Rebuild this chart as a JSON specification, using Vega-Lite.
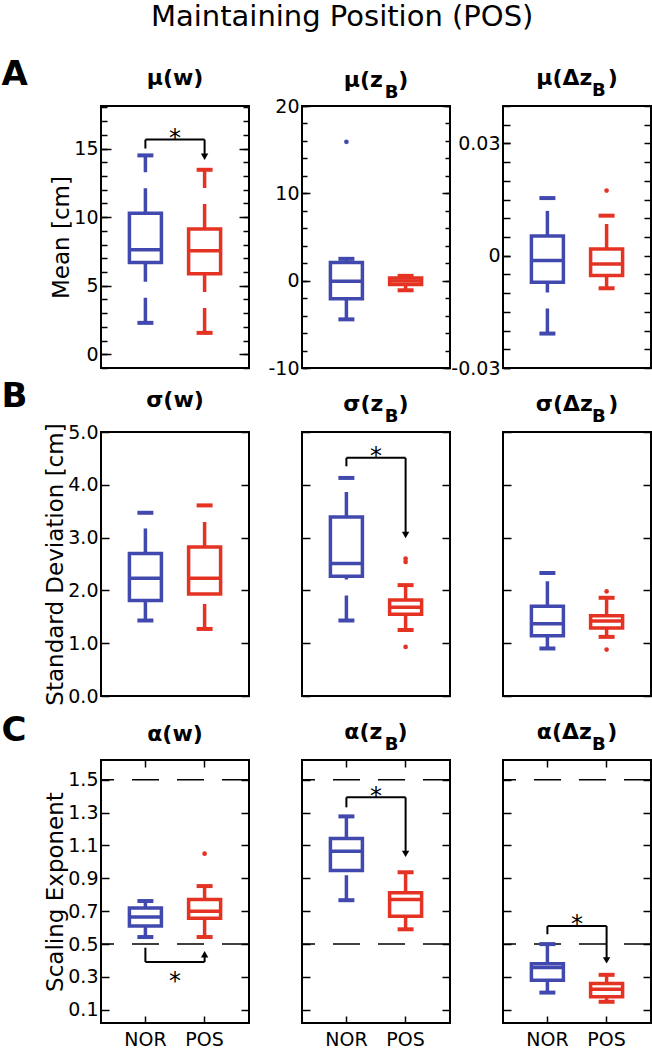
{
"$schema": "https://vega.github.io/schema/vega-lite/v6.json",
"autosize": {"type": "pad"},
"padding": {"left": 0, "top": 3, "right": 0, "bottom": 0},
"background": "white",
"title": {"text": "Maintaining Position (POS)", "fontSize": 29, "fontWeight": "normal", "anchor": "start", "frame": "group", "dx": 50, "offset": 24},
"datasets": {
"boxes": [
{"panel":"A1","g":"NOR","lo":2.29,"q1":6.69,"med":7.62,"q3":10.28,"hi":14.5},
{"panel":"A1","g":"POS","lo":1.56,"q1":5.88,"med":7.55,"q3":9.13,"hi":13.45},
{"panel":"A2","g":"NOR","lo":-4.43,"q1":-2.08,"med":-0.07,"q3":2.08,"hi":2.5},
{"panel":"A2","g":"POS","lo":-1.1,"q1":-0.45,"med":-0.05,"q3":0.3,"hi":0.55},
{"panel":"A3","g":"NOR","lo":-0.0208,"q1":-0.0071,"med":-0.0013,"q3":0.0053,"hi":0.0154},
{"panel":"A3","g":"POS","lo":-0.0087,"q1":-0.0053,"med":-0.0022,"q3":0.0018,"hi":0.0107},
{"panel":"B1","g":"NOR","lo":1.43,"q1":1.81,"med":2.23,"q3":2.70,"hi":3.47},
{"panel":"B1","g":"POS","lo":1.27,"q1":1.93,"med":2.23,"q3":2.82,"hi":3.61},
{"panel":"B2","g":"NOR","lo":1.43,"q1":2.27,"med":2.51,"q3":3.39,"hi":4.13},
{"panel":"B2","g":"POS","lo":1.25,"q1":1.55,"med":1.68,"q3":1.82,"hi":2.10},
{"panel":"B3","g":"NOR","lo":0.90,"q1":1.14,"med":1.37,"q3":1.70,"hi":2.33},
{"panel":"B3","g":"POS","lo":1.12,"q1":1.29,"med":1.42,"q3":1.52,"hi":1.86},
{"panel":"C1","g":"NOR","lo":0.543,"q1":0.61,"med":0.665,"q3":0.72,"hi":0.762},
{"panel":"C1","g":"POS","lo":0.543,"q1":0.657,"med":0.70,"q3":0.772,"hi":0.853},
{"panel":"C2","g":"NOR","lo":0.767,"q1":0.948,"med":1.065,"q3":1.142,"hi":1.277},
{"panel":"C2","g":"POS","lo":0.59,"q1":0.67,"med":0.772,"q3":0.812,"hi":0.937},
{"panel":"C3","g":"NOR","lo":0.205,"q1":0.28,"med":0.357,"q3":0.381,"hi":0.50},
{"panel":"C3","g":"POS","lo":0.149,"q1":0.18,"med":0.226,"q3":0.26,"hi":0.313}
],
"outliers": [
{"panel":"A2","g":"NOR","v":15.9},
{"panel":"A3","g":"POS","v":0.0174},
{"panel":"B2","g":"POS","v":2.60},
{"panel":"B2","g":"POS","v":2.54},
{"panel":"B2","g":"POS","v":0.93},
{"panel":"B3","g":"POS","v":1.98},
{"panel":"B3","g":"POS","v":0.88},
{"panel":"C1","g":"POS","v":1.05}
],
"brackets": [
{"panel":"A1","top":15.65,"nor":15.0,"pos":14.4,"star":16.2,"dir":"down"},
{"panel":"B2","top":4.51,"nor":4.35,"pos":3.05,"star":4.66,"dir":"down"},
{"panel":"C1","top":0.391,"nor":0.478,"pos":0.438,"star":0.31,"dir":"up"},
{"panel":"C2","top":1.393,"nor":1.332,"pos":1.049,"star":1.44,"dir":"down"},
{"panel":"C3","top":0.61,"nor":0.56,"pos":0.401,"star":0.66,"dir":"down"}
],
"refs": [{"r":0.5},{"r":1.5}]
},
"columns": 3,
"spacing": {"row": 64, "column": 53},
"bounds": "flush",
"concat": [
{
"width":148,"height":262,
"title":{"text":"μ(w)","offset":-33},
"layer":[
{"data":{"name":"boxes"},"transform":[{"filter":"datum.panel==='A1'"}],
 "mark":{"type":"bar","width":32,"fill":"white","strokeWidth":3.5,"opacity":1},
 "encoding":{
  "x":{"field":"g","type":"nominal","scale":{"type":"band","domain":["NOR","mid","POS"],"paddingInner":0,"paddingOuter":1.07},"axis":null},
  "y":{"field":"q1","type":"quantitative","scale":{"domain":[-1,18.1],"nice":false,"zero":false},"axis":{"orient":"left","values":[0,5,10,15],"tickSize":-10,"labelPadding":13,"title":"Mean [cm]","titlePadding":0}},
  "y2":{"field":"q3"},
  "stroke":{"field":"g","type":"nominal","scale":{"domain":["NOR","POS"],"range":["#4149ae","#e53323"]},"legend":null}}},
{"data":{"name":"boxes"},"transform":[{"filter":"datum.panel==='A1'"}],
 "mark":{"type":"tick","size":32,"thickness":3.5,"opacity":1},
 "encoding":{"x":{"field":"g","type":"nominal","axis":null},
  "y":{"field":"med","type":"quantitative","axis":{"orient":"right","values":[0,5,10,15],"tickSize":-10,"labels":false,"title":null}},
  "color":{"field":"g","type":"nominal","scale":{"domain":["NOR","POS"],"range":["#4149ae","#e53323"]},"legend":null}}},
{"data":{"name":"boxes"},"transform":[{"filter":"datum.panel==='A1'"}],
 "mark":{"type":"rule","strokeWidth":3.5,"strokeDash":[25,16]},
 "encoding":{"x":{"field":"g","type":"nominal","axis":null},
  "y":{"field":"lo","type":"quantitative","axis":{"orient":"left","values":[-1,0,1,2,3,4,5,6,7,8,9,10,11,12,13,14,15,16,17,18],"tickSize":-6,"labels":false,"title":"A","titleAngle":0,"titleX":-100,"titleY":-22,"titleFontSize":34,"titleFontWeight":"bold","titleAlign":"left","titleBaseline":"alphabetic"}},
  "y2":{"field":"q1"},
  "color":{"field":"g","type":"nominal","legend":null}}},
{"data":{"name":"boxes"},"transform":[{"filter":"datum.panel==='A1'"}],
 "mark":{"type":"rule","strokeWidth":3.5,"strokeDash":[25,16]},
 "encoding":{"x":{"field":"g","type":"nominal","axis":null},
  "y":{"field":"q3","type":"quantitative","axis":{"orient":"right","values":[-1,0,1,2,3,4,5,6,7,8,9,10,11,12,13,14,15,16,17,18],"tickSize":-6,"labels":false,"title":null}},
  "y2":{"field":"hi"},
  "color":{"field":"g","type":"nominal","legend":null}}},
{"data":{"name":"boxes"},"transform":[{"filter":"datum.panel==='A1'"}],
 "mark":{"type":"tick","size":16,"thickness":4,"opacity":1},
 "encoding":{"x":{"field":"g","type":"nominal","axis":null},"y":{"field":"lo","type":"quantitative","axis":null},"color":{"field":"g","type":"nominal","legend":null}}},
{"data":{"name":"boxes"},"transform":[{"filter":"datum.panel==='A1'"}],
 "mark":{"type":"tick","size":16,"thickness":4,"opacity":1},
 "encoding":{"x":{"field":"g","type":"nominal","axis":null},"y":{"field":"hi","type":"quantitative","axis":null},"color":{"field":"g","type":"nominal","legend":null}}},
{"data":{"name":"brackets"},"transform":[{"filter":"datum.panel==='A1'"}],
 "mark":{"type":"rule","strokeWidth":2,"color":"black"},
 "encoding":{"x":{"datum":"NOR","type":"nominal","axis":null},"x2":{"datum":"POS"},"y":{"field":"top","type":"quantitative","axis":null}}},
{"data":{"name":"brackets"},"transform":[{"filter":"datum.panel==='A1'"}],
 "mark":{"type":"rule","strokeWidth":2,"color":"black"},
 "encoding":{"x":{"datum":"NOR","type":"nominal","axis":null},"y":{"field":"top","type":"quantitative","axis":null},"y2":{"field":"nor"}}},
{"data":{"name":"brackets"},"transform":[{"filter":"datum.panel==='A1'"}],
 "mark":{"type":"rule","strokeWidth":2,"color":"black"},
 "encoding":{"x":{"datum":"POS","type":"nominal","axis":null},"y":{"field":"top","type":"quantitative","axis":null},"y2":{"field":"pos"}}},
{"data":{"name":"brackets"},"transform":[{"filter":"datum.panel==='A1'"}],
 "mark":{"type":"point","filled":true,"size":55,"color":"black","opacity":1},
 "encoding":{"x":{"datum":"POS","type":"nominal","axis":null},"y":{"field":"pos","type":"quantitative","axis":null},"shape":{"field":"dir","type":"nominal","scale":{"domain":["down","up"],"range":["triangle-down","triangle-up"]},"legend":null}}},
{"data":{"name":"brackets"},"transform":[{"filter":"datum.panel==='A1'"}],
 "mark":{"type":"text","text":"*","fontSize":24,"baseline":"middle","dy":7,"color":"black"},
 "encoding":{"x":{"datum":"mid","type":"nominal","axis":null},"y":{"field":"star","type":"quantitative","axis":null}}}
],
"resolve":{"axis":{"x":"independent","y":"independent"}}
},
{
"width":148,"height":262,
"title":{"text":"μ(z\u00a0\u00a0)","subtitle":"\u200b\u00a0\u00a0\u00a0\u00a0\u00a0B","offset":-6,"subtitlePadding":-8},
"layer":[
{"data":{"name":"boxes"},"transform":[{"filter":"datum.panel==='A2'"}],
 "mark":{"type":"bar","width":32,"fill":"white","strokeWidth":3.5,"opacity":1},
 "encoding":{
  "x":{"field":"g","type":"nominal","scale":{"type":"band","domain":["NOR","mid","POS"],"paddingInner":0,"paddingOuter":1.07},"axis":null},
  "y":{"field":"q1","type":"quantitative","scale":{"domain":[-10,20],"nice":false,"zero":false},"axis":{"orient":"left","values":[-10,0,10,20],"format":"d","labelExpr":"replace(datum.label, '−', '-')","tickSize":-8,"labelPadding":11,"title":null}},
  "y2":{"field":"q3"},
  "stroke":{"field":"g","type":"nominal","scale":{"domain":["NOR","POS"],"range":["#4149ae","#e53323"]},"legend":null}}},
{"data":{"name":"boxes"},"transform":[{"filter":"datum.panel==='A2'"}],
 "mark":{"type":"tick","size":32,"thickness":3.5,"opacity":1},
 "encoding":{"x":{"field":"g","type":"nominal","axis":null},
  "y":{"field":"med","type":"quantitative","axis":{"orient":"right","values":[-10,0,10,20],"tickSize":-8,"labels":false,"title":null}},
  "color":{"field":"g","type":"nominal","scale":{"domain":["NOR","POS"],"range":["#4149ae","#e53323"]},"legend":null}}},
{"data":{"name":"boxes"},"transform":[{"filter":"datum.panel==='A2'"}],
 "mark":{"type":"rule","strokeWidth":3.5,"strokeDash":[25,16]},
 "encoding":{"x":{"field":"g","type":"nominal","axis":null},
  "y":{"field":"lo","type":"quantitative","axis":{"orient":"left","values":[-10,-8,-6,-4,-2,0,2,4,6,8,10,12,14,16,18,20],"tickSize":-5,"labels":false,"title":null}},
  "y2":{"field":"q1"},
  "color":{"field":"g","type":"nominal","legend":null}}},
{"data":{"name":"boxes"},"transform":[{"filter":"datum.panel==='A2'"}],
 "mark":{"type":"rule","strokeWidth":3.5,"strokeDash":[25,16]},
 "encoding":{"x":{"field":"g","type":"nominal","axis":null},
  "y":{"field":"q3","type":"quantitative","axis":{"orient":"right","values":[-10,-8,-6,-4,-2,0,2,4,6,8,10,12,14,16,18,20],"tickSize":-5,"labels":false,"title":null}},
  "y2":{"field":"hi"},
  "color":{"field":"g","type":"nominal","legend":null}}},
{"data":{"name":"boxes"},"transform":[{"filter":"datum.panel==='A2'"}],
 "mark":{"type":"tick","size":16,"thickness":4,"opacity":1},
 "encoding":{"x":{"field":"g","type":"nominal","axis":null},"y":{"field":"lo","type":"quantitative","axis":null},"color":{"field":"g","type":"nominal","legend":null}}},
{"data":{"name":"boxes"},"transform":[{"filter":"datum.panel==='A2'"}],
 "mark":{"type":"tick","size":16,"thickness":4,"opacity":1},
 "encoding":{"x":{"field":"g","type":"nominal","axis":null},"y":{"field":"hi","type":"quantitative","axis":null},"color":{"field":"g","type":"nominal","legend":null}}},
{"data":{"name":"outliers"},"transform":[{"filter":"datum.panel==='A2'"}],
 "mark":{"type":"point","filled":true,"size":22,"opacity":1},
 "encoding":{"x":{"field":"g","type":"nominal","axis":null},"y":{"field":"v","type":"quantitative","axis":null},"color":{"field":"g","type":"nominal","legend":null}}}
],
"resolve":{"axis":{"x":"independent","y":"independent"}}
},
{
"width":148,"height":262,
"title":{"text":"μ(Δz\u00a0\u00a0)","subtitle":"\u200b\u00a0\u00a0\u00a0\u00a0\u00a0\u00a0\u00a0B","offset":4,"subtitlePadding":-8},
"layer":[
{"data":{"name":"boxes"},"transform":[{"filter":"datum.panel==='A3'"}],
 "mark":{"type":"bar","width":32,"fill":"white","strokeWidth":3.5,"opacity":1},
 "encoding":{
  "x":{"field":"g","type":"nominal","scale":{"type":"band","domain":["NOR","mid","POS"],"paddingInner":0,"paddingOuter":1.07},"axis":null},
  "y":{"field":"q1","type":"quantitative","scale":{"domain":[-0.03,0.04],"nice":false,"zero":false},"axis":{"orient":"left","values":[-0.03,0,0.03],"format":"~g","labelExpr":"replace(datum.label, '−', '-')","tickSize":-7,"labelPadding":10,"title":null}},
  "y2":{"field":"q3"},
  "stroke":{"field":"g","type":"nominal","scale":{"domain":["NOR","POS"],"range":["#4149ae","#e53323"]},"legend":null}}},
{"data":{"name":"boxes"},"transform":[{"filter":"datum.panel==='A3'"}],
 "mark":{"type":"tick","size":32,"thickness":3.5,"opacity":1},
 "encoding":{"x":{"field":"g","type":"nominal","axis":null},
  "y":{"field":"med","type":"quantitative","axis":{"orient":"right","values":[-0.03,-0.025,-0.02,-0.015,-0.01,-0.005,0,0.005,0.01,0.015,0.02,0.025,0.03,0.035,0.04],"tickSize":-7,"labels":false,"title":null}},
  "color":{"field":"g","type":"nominal","scale":{"domain":["NOR","POS"],"range":["#4149ae","#e53323"]},"legend":null}}},
{"data":{"name":"boxes"},"transform":[{"filter":"datum.panel==='A3'"}],
 "mark":{"type":"rule","strokeWidth":3.5,"strokeDash":[25,16]},
 "encoding":{"x":{"field":"g","type":"nominal","axis":null},
  "y":{"field":"lo","type":"quantitative","axis":{"orient":"left","values":[-0.03,-0.025,-0.02,-0.015,-0.01,-0.005,0,0.005,0.01,0.015,0.02,0.025,0.03,0.035,0.04],"tickSize":-7,"labels":false,"title":null}},
  "y2":{"field":"q1"},
  "color":{"field":"g","type":"nominal","legend":null}}},
{"data":{"name":"boxes"},"transform":[{"filter":"datum.panel==='A3'"}],
 "mark":{"type":"rule","strokeWidth":3.5,"strokeDash":[25,16]},
 "encoding":{"x":{"field":"g","type":"nominal","axis":null},
  "y":{"field":"q3","type":"quantitative","axis":null},
  "y2":{"field":"hi"},
  "color":{"field":"g","type":"nominal","legend":null}}},
{"data":{"name":"boxes"},"transform":[{"filter":"datum.panel==='A3'"}],
 "mark":{"type":"tick","size":16,"thickness":4,"opacity":1},
 "encoding":{"x":{"field":"g","type":"nominal","axis":null},"y":{"field":"lo","type":"quantitative","axis":null},"color":{"field":"g","type":"nominal","legend":null}}},
{"data":{"name":"boxes"},"transform":[{"filter":"datum.panel==='A3'"}],
 "mark":{"type":"tick","size":16,"thickness":4,"opacity":1},
 "encoding":{"x":{"field":"g","type":"nominal","axis":null},"y":{"field":"hi","type":"quantitative","axis":null},"color":{"field":"g","type":"nominal","legend":null}}},
{"data":{"name":"outliers"},"transform":[{"filter":"datum.panel==='A3'"}],
 "mark":{"type":"point","filled":true,"size":22,"opacity":1},
 "encoding":{"x":{"field":"g","type":"nominal","axis":null},"y":{"field":"v","type":"quantitative","axis":null},"color":{"field":"g","type":"nominal","legend":null}}}
],
"resolve":{"axis":{"x":"independent","y":"independent"}}
},
{
"width":148,"height":264,
"title":{"text":"σ(w)","offset":-33},
"layer":[
{"data":{"name":"boxes"},"transform":[{"filter":"datum.panel==='B1'"}],
 "mark":{"type":"bar","width":32,"fill":"white","strokeWidth":3.5,"opacity":1},
 "encoding":{
  "x":{"field":"g","type":"nominal","scale":{"type":"band","domain":["NOR","mid","POS"],"paddingInner":0,"paddingOuter":1.07},"axis":null},
  "y":{"field":"q1","type":"quantitative","scale":{"domain":[0,5],"nice":false,"zero":false},"axis":{"orient":"left","values":[0,1,2,3,4,5],"format":".1f","tickSize":-8,"labelPadding":11,"title":"Standard Deviation [cm]","titlePadding":0}},
  "y2":{"field":"q3"},
  "stroke":{"field":"g","type":"nominal","scale":{"domain":["NOR","POS"],"range":["#4149ae","#e53323"]},"legend":null}}},
{"data":{"name":"boxes"},"transform":[{"filter":"datum.panel==='B1'"}],
 "mark":{"type":"tick","size":32,"thickness":3.5,"opacity":1},
 "encoding":{"x":{"field":"g","type":"nominal","axis":null},
  "y":{"field":"med","type":"quantitative","axis":{"orient":"right","values":[0,1,2,3,4,5],"tickSize":-8,"labels":false,"title":"B","titleAngle":0,"titleX":-248,"titleY":-26,"titleFontSize":34,"titleFontWeight":"bold","titleAlign":"left","titleBaseline":"alphabetic"}},
  "color":{"field":"g","type":"nominal","scale":{"domain":["NOR","POS"],"range":["#4149ae","#e53323"]},"legend":null}}},
{"data":{"name":"boxes"},"transform":[{"filter":"datum.panel==='B1'"}],
 "mark":{"type":"rule","strokeWidth":3.5,"strokeDash":[25,16]},
 "encoding":{"x":{"field":"g","type":"nominal","axis":null},"y":{"field":"lo","type":"quantitative","axis":null},"y2":{"field":"q1"},"color":{"field":"g","type":"nominal","legend":null}}},
{"data":{"name":"boxes"},"transform":[{"filter":"datum.panel==='B1'"}],
 "mark":{"type":"rule","strokeWidth":3.5,"strokeDash":[25,16]},
 "encoding":{"x":{"field":"g","type":"nominal","axis":null},"y":{"field":"q3","type":"quantitative","axis":null},"y2":{"field":"hi"},"color":{"field":"g","type":"nominal","legend":null}}},
{"data":{"name":"boxes"},"transform":[{"filter":"datum.panel==='B1'"}],
 "mark":{"type":"tick","size":16,"thickness":4,"opacity":1},
 "encoding":{"x":{"field":"g","type":"nominal","axis":null},"y":{"field":"lo","type":"quantitative","axis":null},"color":{"field":"g","type":"nominal","legend":null}}},
{"data":{"name":"boxes"},"transform":[{"filter":"datum.panel==='B1'"}],
 "mark":{"type":"tick","size":16,"thickness":4,"opacity":1},
 "encoding":{"x":{"field":"g","type":"nominal","axis":null},"y":{"field":"hi","type":"quantitative","axis":null},"color":{"field":"g","type":"nominal","legend":null}}}
],
"resolve":{"axis":{"x":"independent","y":"independent"}}
},
{
"width":148,"height":264,
"title":{"text":"σ(z\u00a0\u00a0)","subtitle":"\u200b\u00a0\u00a0\u00a0\u00a0\u00a0B","offset":4,"subtitlePadding":-8},
"layer":[
{"data":{"name":"boxes"},"transform":[{"filter":"datum.panel==='B2'"}],
 "mark":{"type":"bar","width":32,"fill":"white","strokeWidth":3.5,"opacity":1},
 "encoding":{
  "x":{"field":"g","type":"nominal","scale":{"type":"band","domain":["NOR","mid","POS"],"paddingInner":0,"paddingOuter":1.07},"axis":null},
  "y":{"field":"q1","type":"quantitative","scale":{"domain":[0,5],"nice":false,"zero":false},"axis":{"orient":"left","values":[0,1,2,3,4,5],"tickSize":-8,"labels":false,"title":null}},
  "y2":{"field":"q3"},
  "stroke":{"field":"g","type":"nominal","scale":{"domain":["NOR","POS"],"range":["#4149ae","#e53323"]},"legend":null}}},
{"data":{"name":"boxes"},"transform":[{"filter":"datum.panel==='B2'"}],
 "mark":{"type":"tick","size":32,"thickness":3.5,"opacity":1},
 "encoding":{"x":{"field":"g","type":"nominal","axis":null},
  "y":{"field":"med","type":"quantitative","axis":{"orient":"right","values":[0,1,2,3,4,5],"tickSize":-8,"labels":false,"title":null}},
  "color":{"field":"g","type":"nominal","scale":{"domain":["NOR","POS"],"range":["#4149ae","#e53323"]},"legend":null}}},
{"data":{"name":"boxes"},"transform":[{"filter":"datum.panel==='B2'"}],
 "mark":{"type":"rule","strokeWidth":3.5,"strokeDash":[25,16]},
 "encoding":{"x":{"field":"g","type":"nominal","axis":null},"y":{"field":"lo","type":"quantitative","axis":null},"y2":{"field":"q1"},"color":{"field":"g","type":"nominal","legend":null}}},
{"data":{"name":"boxes"},"transform":[{"filter":"datum.panel==='B2'"}],
 "mark":{"type":"rule","strokeWidth":3.5,"strokeDash":[25,16]},
 "encoding":{"x":{"field":"g","type":"nominal","axis":null},"y":{"field":"q3","type":"quantitative","axis":null},"y2":{"field":"hi"},"color":{"field":"g","type":"nominal","legend":null}}},
{"data":{"name":"boxes"},"transform":[{"filter":"datum.panel==='B2'"}],
 "mark":{"type":"tick","size":16,"thickness":4,"opacity":1},
 "encoding":{"x":{"field":"g","type":"nominal","axis":null},"y":{"field":"lo","type":"quantitative","axis":null},"color":{"field":"g","type":"nominal","legend":null}}},
{"data":{"name":"boxes"},"transform":[{"filter":"datum.panel==='B2'"}],
 "mark":{"type":"tick","size":16,"thickness":4,"opacity":1},
 "encoding":{"x":{"field":"g","type":"nominal","axis":null},"y":{"field":"hi","type":"quantitative","axis":null},"color":{"field":"g","type":"nominal","legend":null}}},
{"data":{"name":"outliers"},"transform":[{"filter":"datum.panel==='B2'"}],
 "mark":{"type":"point","filled":true,"size":22,"opacity":1},
 "encoding":{"x":{"field":"g","type":"nominal","axis":null},"y":{"field":"v","type":"quantitative","axis":null},"color":{"field":"g","type":"nominal","legend":null}}},
{"data":{"name":"brackets"},"transform":[{"filter":"datum.panel==='B2'"}],
 "mark":{"type":"rule","strokeWidth":2,"color":"black"},
 "encoding":{"x":{"datum":"NOR","type":"nominal","axis":null},"x2":{"datum":"POS"},"y":{"field":"top","type":"quantitative","axis":null}}},
{"data":{"name":"brackets"},"transform":[{"filter":"datum.panel==='B2'"}],
 "mark":{"type":"rule","strokeWidth":2,"color":"black"},
 "encoding":{"x":{"datum":"NOR","type":"nominal","axis":null},"y":{"field":"top","type":"quantitative","axis":null},"y2":{"field":"nor"}}},
{"data":{"name":"brackets"},"transform":[{"filter":"datum.panel==='B2'"}],
 "mark":{"type":"rule","strokeWidth":2,"color":"black"},
 "encoding":{"x":{"datum":"POS","type":"nominal","axis":null},"y":{"field":"top","type":"quantitative","axis":null},"y2":{"field":"pos"}}},
{"data":{"name":"brackets"},"transform":[{"filter":"datum.panel==='B2'"}],
 "mark":{"type":"point","filled":true,"size":55,"color":"black","opacity":1},
 "encoding":{"x":{"datum":"POS","type":"nominal","axis":null},"y":{"field":"pos","type":"quantitative","axis":null},"shape":{"field":"dir","type":"nominal","scale":{"domain":["down","up"],"range":["triangle-down","triangle-up"]},"legend":null}}},
{"data":{"name":"brackets"},"transform":[{"filter":"datum.panel==='B2'"}],
 "mark":{"type":"text","text":"*","fontSize":24,"baseline":"middle","dy":7,"color":"black"},
 "encoding":{"x":{"datum":"mid","type":"nominal","axis":null},"y":{"field":"star","type":"quantitative","axis":null}}}
],
"resolve":{"axis":{"x":"independent","y":"independent"}}
},
{
"width":148,"height":264,
"title":{"text":"σ(Δz\u00a0\u00a0)","subtitle":"\u200b\u00a0\u00a0\u00a0\u00a0\u00a0\u00a0\u00a0B","offset":4,"subtitlePadding":-8},
"layer":[
{"data":{"name":"boxes"},"transform":[{"filter":"datum.panel==='B3'"}],
 "mark":{"type":"bar","width":32,"fill":"white","strokeWidth":3.5,"opacity":1},
 "encoding":{
  "x":{"field":"g","type":"nominal","scale":{"type":"band","domain":["NOR","mid","POS"],"paddingInner":0,"paddingOuter":1.07},"axis":null},
  "y":{"field":"q1","type":"quantitative","scale":{"domain":[0,5],"nice":false,"zero":false},"axis":{"orient":"left","values":[0,1,2,3,4,5],"tickSize":-8,"labels":false,"title":null}},
  "y2":{"field":"q3"},
  "stroke":{"field":"g","type":"nominal","scale":{"domain":["NOR","POS"],"range":["#4149ae","#e53323"]},"legend":null}}},
{"data":{"name":"boxes"},"transform":[{"filter":"datum.panel==='B3'"}],
 "mark":{"type":"tick","size":32,"thickness":3.5,"opacity":1},
 "encoding":{"x":{"field":"g","type":"nominal","axis":null},
  "y":{"field":"med","type":"quantitative","axis":{"orient":"right","values":[0,1,2,3,4,5],"tickSize":-8,"labels":false,"title":null}},
  "color":{"field":"g","type":"nominal","scale":{"domain":["NOR","POS"],"range":["#4149ae","#e53323"]},"legend":null}}},
{"data":{"name":"boxes"},"transform":[{"filter":"datum.panel==='B3'"}],
 "mark":{"type":"rule","strokeWidth":3.5,"strokeDash":[25,16]},
 "encoding":{"x":{"field":"g","type":"nominal","axis":null},"y":{"field":"lo","type":"quantitative","axis":null},"y2":{"field":"q1"},"color":{"field":"g","type":"nominal","legend":null}}},
{"data":{"name":"boxes"},"transform":[{"filter":"datum.panel==='B3'"}],
 "mark":{"type":"rule","strokeWidth":3.5,"strokeDash":[25,16]},
 "encoding":{"x":{"field":"g","type":"nominal","axis":null},"y":{"field":"q3","type":"quantitative","axis":null},"y2":{"field":"hi"},"color":{"field":"g","type":"nominal","legend":null}}},
{"data":{"name":"boxes"},"transform":[{"filter":"datum.panel==='B3'"}],
 "mark":{"type":"tick","size":16,"thickness":4,"opacity":1},
 "encoding":{"x":{"field":"g","type":"nominal","axis":null},"y":{"field":"lo","type":"quantitative","axis":null},"color":{"field":"g","type":"nominal","legend":null}}},
{"data":{"name":"boxes"},"transform":[{"filter":"datum.panel==='B3'"}],
 "mark":{"type":"tick","size":16,"thickness":4,"opacity":1},
 "encoding":{"x":{"field":"g","type":"nominal","axis":null},"y":{"field":"hi","type":"quantitative","axis":null},"color":{"field":"g","type":"nominal","legend":null}}},
{"data":{"name":"outliers"},"transform":[{"filter":"datum.panel==='B3'"}],
 "mark":{"type":"point","filled":true,"size":22,"opacity":1},
 "encoding":{"x":{"field":"g","type":"nominal","axis":null},"y":{"field":"v","type":"quantitative","axis":null},"color":{"field":"g","type":"nominal","legend":null}}}
],
"resolve":{"axis":{"x":"independent","y":"independent"}}
},
{
"width":148,"height":263,
"title":{"text":"α(w)","offset":-33},
"layer":[
{"data":{"name":"refs"},
 "mark":{"type":"rule","strokeDash":[27,18],"strokeWidth":1.5,"color":"black"},
 "encoding":{"y":{"field":"r","type":"quantitative","scale":{"domain":[0.02,1.62],"nice":false,"zero":false},"axis":null}}},
{"data":{"name":"boxes"},"transform":[{"filter":"datum.panel==='C1'"}],
 "mark":{"type":"bar","width":32,"fill":"white","strokeWidth":3.5,"opacity":1},
 "encoding":{
  "x":{"field":"g","type":"nominal","scale":{"type":"band","domain":["NOR","mid","POS"],"paddingInner":0,"paddingOuter":1.07},"axis":{"orient":"bottom","values":["NOR","POS"],"tickSize":-7,"labelPadding":14,"labelAngle":0,"title":null}},
  "y":{"field":"q1","type":"quantitative","axis":{"orient":"left","values":[0.1,0.3,0.5,0.7,0.9,1.1,1.3,1.5],"format":".1f","tickSize":-8,"labelPadding":11,"title":"Scaling Exponent","titlePadding":0}},
  "y2":{"field":"q3"},
  "stroke":{"field":"g","type":"nominal","scale":{"domain":["NOR","POS"],"range":["#4149ae","#e53323"]},"legend":null}}},
{"data":{"name":"boxes"},"transform":[{"filter":"datum.panel==='C1'"}],
 "mark":{"type":"tick","size":32,"thickness":3.5,"opacity":1},
 "encoding":{"x":{"field":"g","type":"nominal","axis":{"orient":"top","values":["NOR","POS"],"tickSize":-7,"labels":false,"title":null}},
  "y":{"field":"med","type":"quantitative","axis":{"orient":"right","values":[0.1,0.3,0.5,0.7,0.9,1.1,1.3,1.5],"tickSize":-8,"labels":false,"title":"C","titleAngle":0,"titleX":-248,"titleY":-20,"titleFontSize":34,"titleFontWeight":"bold","titleAlign":"left","titleBaseline":"alphabetic"}},
  "color":{"field":"g","type":"nominal","scale":{"domain":["NOR","POS"],"range":["#4149ae","#e53323"]},"legend":null}}},
{"data":{"name":"boxes"},"transform":[{"filter":"datum.panel==='C1'"}],
 "mark":{"type":"rule","strokeWidth":3.5,"strokeDash":[25,16]},
 "encoding":{"x":{"field":"g","type":"nominal","axis":null},"y":{"field":"lo","type":"quantitative","axis":null},"y2":{"field":"q1"},"color":{"field":"g","type":"nominal","legend":null}}},
{"data":{"name":"boxes"},"transform":[{"filter":"datum.panel==='C1'"}],
 "mark":{"type":"rule","strokeWidth":3.5,"strokeDash":[25,16]},
 "encoding":{"x":{"field":"g","type":"nominal","axis":null},"y":{"field":"q3","type":"quantitative","axis":null},"y2":{"field":"hi"},"color":{"field":"g","type":"nominal","legend":null}}},
{"data":{"name":"boxes"},"transform":[{"filter":"datum.panel==='C1'"}],
 "mark":{"type":"tick","size":16,"thickness":4,"opacity":1},
 "encoding":{"x":{"field":"g","type":"nominal","axis":null},"y":{"field":"lo","type":"quantitative","axis":null},"color":{"field":"g","type":"nominal","legend":null}}},
{"data":{"name":"boxes"},"transform":[{"filter":"datum.panel==='C1'"}],
 "mark":{"type":"tick","size":16,"thickness":4,"opacity":1},
 "encoding":{"x":{"field":"g","type":"nominal","axis":null},"y":{"field":"hi","type":"quantitative","axis":null},"color":{"field":"g","type":"nominal","legend":null}}},
{"data":{"name":"outliers"},"transform":[{"filter":"datum.panel==='C1'"}],
 "mark":{"type":"point","filled":true,"size":22,"opacity":1},
 "encoding":{"x":{"field":"g","type":"nominal","axis":null},"y":{"field":"v","type":"quantitative","axis":null},"color":{"field":"g","type":"nominal","legend":null}}},
{"data":{"name":"brackets"},"transform":[{"filter":"datum.panel==='C1'"}],
 "mark":{"type":"rule","strokeWidth":2,"color":"black"},
 "encoding":{"x":{"datum":"NOR","type":"nominal","axis":null},"x2":{"datum":"POS"},"y":{"field":"top","type":"quantitative","axis":null}}},
{"data":{"name":"brackets"},"transform":[{"filter":"datum.panel==='C1'"}],
 "mark":{"type":"rule","strokeWidth":2,"color":"black"},
 "encoding":{"x":{"datum":"NOR","type":"nominal","axis":null},"y":{"field":"top","type":"quantitative","axis":null},"y2":{"field":"nor"}}},
{"data":{"name":"brackets"},"transform":[{"filter":"datum.panel==='C1'"}],
 "mark":{"type":"rule","strokeWidth":2,"color":"black"},
 "encoding":{"x":{"datum":"POS","type":"nominal","axis":null},"y":{"field":"top","type":"quantitative","axis":null},"y2":{"field":"pos"}}},
{"data":{"name":"brackets"},"transform":[{"filter":"datum.panel==='C1'"}],
 "mark":{"type":"point","filled":true,"size":55,"color":"black","opacity":1},
 "encoding":{"x":{"datum":"POS","type":"nominal","axis":null},"y":{"field":"pos","type":"quantitative","axis":null},"shape":{"field":"dir","type":"nominal","scale":{"domain":["down","up"],"range":["triangle-down","triangle-up"]},"legend":null}}},
{"data":{"name":"brackets"},"transform":[{"filter":"datum.panel==='C1'"}],
 "mark":{"type":"text","text":"*","fontSize":24,"baseline":"middle","dy":7,"color":"black"},
 "encoding":{"x":{"datum":"mid","type":"nominal","axis":null},"y":{"field":"star","type":"quantitative","axis":null}}}
],
"resolve":{"axis":{"x":"independent","y":"independent"}}
},
{
"width":148,"height":263,
"title":{"text":"α(z\u00a0\u00a0)","subtitle":"\u200b\u00a0\u00a0\u00a0\u00a0\u00a0B","offset":4,"subtitlePadding":-8},
"layer":[
{"data":{"name":"refs"},
 "mark":{"type":"rule","strokeDash":[27,18],"strokeWidth":1.5,"color":"black"},
 "encoding":{"y":{"field":"r","type":"quantitative","scale":{"domain":[0.02,1.62],"nice":false,"zero":false},"axis":null}}},
{"data":{"name":"boxes"},"transform":[{"filter":"datum.panel==='C2'"}],
 "mark":{"type":"bar","width":32,"fill":"white","strokeWidth":3.5,"opacity":1},
 "encoding":{
  "x":{"field":"g","type":"nominal","scale":{"type":"band","domain":["NOR","mid","POS"],"paddingInner":0,"paddingOuter":1.07},"axis":{"orient":"bottom","values":["NOR","POS"],"tickSize":-7,"labelPadding":14,"labelAngle":0,"title":null}},
  "y":{"field":"q1","type":"quantitative","axis":{"orient":"left","values":[0.1,0.3,0.5,0.7,0.9,1.1,1.3,1.5],"tickSize":-8,"labels":false,"title":null}},
  "y2":{"field":"q3"},
  "stroke":{"field":"g","type":"nominal","scale":{"domain":["NOR","POS"],"range":["#4149ae","#e53323"]},"legend":null}}},
{"data":{"name":"boxes"},"transform":[{"filter":"datum.panel==='C2'"}],
 "mark":{"type":"tick","size":32,"thickness":3.5,"opacity":1},
 "encoding":{"x":{"field":"g","type":"nominal","axis":{"orient":"top","values":["NOR","POS"],"tickSize":-7,"labels":false,"title":null}},
  "y":{"field":"med","type":"quantitative","axis":{"orient":"right","values":[0.1,0.3,0.5,0.7,0.9,1.1,1.3,1.5],"tickSize":-8,"labels":false,"title":null}},
  "color":{"field":"g","type":"nominal","scale":{"domain":["NOR","POS"],"range":["#4149ae","#e53323"]},"legend":null}}},
{"data":{"name":"boxes"},"transform":[{"filter":"datum.panel==='C2'"}],
 "mark":{"type":"rule","strokeWidth":3.5,"strokeDash":[25,16]},
 "encoding":{"x":{"field":"g","type":"nominal","axis":null},"y":{"field":"lo","type":"quantitative","axis":null},"y2":{"field":"q1"},"color":{"field":"g","type":"nominal","legend":null}}},
{"data":{"name":"boxes"},"transform":[{"filter":"datum.panel==='C2'"}],
 "mark":{"type":"rule","strokeWidth":3.5,"strokeDash":[25,16]},
 "encoding":{"x":{"field":"g","type":"nominal","axis":null},"y":{"field":"q3","type":"quantitative","axis":null},"y2":{"field":"hi"},"color":{"field":"g","type":"nominal","legend":null}}},
{"data":{"name":"boxes"},"transform":[{"filter":"datum.panel==='C2'"}],
 "mark":{"type":"tick","size":16,"thickness":4,"opacity":1},
 "encoding":{"x":{"field":"g","type":"nominal","axis":null},"y":{"field":"lo","type":"quantitative","axis":null},"color":{"field":"g","type":"nominal","legend":null}}},
{"data":{"name":"boxes"},"transform":[{"filter":"datum.panel==='C2'"}],
 "mark":{"type":"tick","size":16,"thickness":4,"opacity":1},
 "encoding":{"x":{"field":"g","type":"nominal","axis":null},"y":{"field":"hi","type":"quantitative","axis":null},"color":{"field":"g","type":"nominal","legend":null}}},
{"data":{"name":"brackets"},"transform":[{"filter":"datum.panel==='C2'"}],
 "mark":{"type":"rule","strokeWidth":2,"color":"black"},
 "encoding":{"x":{"datum":"NOR","type":"nominal","axis":null},"x2":{"datum":"POS"},"y":{"field":"top","type":"quantitative","axis":null}}},
{"data":{"name":"brackets"},"transform":[{"filter":"datum.panel==='C2'"}],
 "mark":{"type":"rule","strokeWidth":2,"color":"black"},
 "encoding":{"x":{"datum":"NOR","type":"nominal","axis":null},"y":{"field":"top","type":"quantitative","axis":null},"y2":{"field":"nor"}}},
{"data":{"name":"brackets"},"transform":[{"filter":"datum.panel==='C2'"}],
 "mark":{"type":"rule","strokeWidth":2,"color":"black"},
 "encoding":{"x":{"datum":"POS","type":"nominal","axis":null},"y":{"field":"top","type":"quantitative","axis":null},"y2":{"field":"pos"}}},
{"data":{"name":"brackets"},"transform":[{"filter":"datum.panel==='C2'"}],
 "mark":{"type":"point","filled":true,"size":55,"color":"black","opacity":1},
 "encoding":{"x":{"datum":"POS","type":"nominal","axis":null},"y":{"field":"pos","type":"quantitative","axis":null},"shape":{"field":"dir","type":"nominal","scale":{"domain":["down","up"],"range":["triangle-down","triangle-up"]},"legend":null}}},
{"data":{"name":"brackets"},"transform":[{"filter":"datum.panel==='C2'"}],
 "mark":{"type":"text","text":"*","fontSize":24,"baseline":"middle","dy":7,"color":"black"},
 "encoding":{"x":{"datum":"mid","type":"nominal","axis":null},"y":{"field":"star","type":"quantitative","axis":null}}}
],
"resolve":{"axis":{"x":"independent","y":"independent"}}
},
{
"width":148,"height":263,
"title":{"text":"α(Δz\u00a0\u00a0)","subtitle":"\u200b\u00a0\u00a0\u00a0\u00a0\u00a0\u00a0\u00a0B","offset":4,"subtitlePadding":-8},
"layer":[
{"data":{"name":"refs"},
 "mark":{"type":"rule","strokeDash":[27,18],"strokeWidth":1.5,"color":"black"},
 "encoding":{"y":{"field":"r","type":"quantitative","scale":{"domain":[0.02,1.62],"nice":false,"zero":false},"axis":null}}},
{"data":{"name":"boxes"},"transform":[{"filter":"datum.panel==='C3'"}],
 "mark":{"type":"bar","width":32,"fill":"white","strokeWidth":3.5,"opacity":1},
 "encoding":{
  "x":{"field":"g","type":"nominal","scale":{"type":"band","domain":["NOR","mid","POS"],"paddingInner":0,"paddingOuter":1.07},"axis":{"orient":"bottom","values":["NOR","POS"],"tickSize":-7,"labelPadding":14,"labelAngle":0,"title":null}},
  "y":{"field":"q1","type":"quantitative","axis":{"orient":"left","values":[0.1,0.3,0.5,0.7,0.9,1.1,1.3,1.5],"tickSize":-8,"labels":false,"title":null}},
  "y2":{"field":"q3"},
  "stroke":{"field":"g","type":"nominal","scale":{"domain":["NOR","POS"],"range":["#4149ae","#e53323"]},"legend":null}}},
{"data":{"name":"boxes"},"transform":[{"filter":"datum.panel==='C3'"}],
 "mark":{"type":"tick","size":32,"thickness":3.5,"opacity":1},
 "encoding":{"x":{"field":"g","type":"nominal","axis":{"orient":"top","values":["NOR","POS"],"tickSize":-7,"labels":false,"title":null}},
  "y":{"field":"med","type":"quantitative","axis":{"orient":"right","values":[0.1,0.3,0.5,0.7,0.9,1.1,1.3,1.5],"tickSize":-8,"labels":false,"title":null}},
  "color":{"field":"g","type":"nominal","scale":{"domain":["NOR","POS"],"range":["#4149ae","#e53323"]},"legend":null}}},
{"data":{"name":"boxes"},"transform":[{"filter":"datum.panel==='C3'"}],
 "mark":{"type":"rule","strokeWidth":3.5,"strokeDash":[25,16]},
 "encoding":{"x":{"field":"g","type":"nominal","axis":null},"y":{"field":"lo","type":"quantitative","axis":null},"y2":{"field":"q1"},"color":{"field":"g","type":"nominal","legend":null}}},
{"data":{"name":"boxes"},"transform":[{"filter":"datum.panel==='C3'"}],
 "mark":{"type":"rule","strokeWidth":3.5,"strokeDash":[25,16]},
 "encoding":{"x":{"field":"g","type":"nominal","axis":null},"y":{"field":"q3","type":"quantitative","axis":null},"y2":{"field":"hi"},"color":{"field":"g","type":"nominal","legend":null}}},
{"data":{"name":"boxes"},"transform":[{"filter":"datum.panel==='C3'"}],
 "mark":{"type":"tick","size":16,"thickness":4,"opacity":1},
 "encoding":{"x":{"field":"g","type":"nominal","axis":null},"y":{"field":"lo","type":"quantitative","axis":null},"color":{"field":"g","type":"nominal","legend":null}}},
{"data":{"name":"boxes"},"transform":[{"filter":"datum.panel==='C3'"}],
 "mark":{"type":"tick","size":16,"thickness":4,"opacity":1},
 "encoding":{"x":{"field":"g","type":"nominal","axis":null},"y":{"field":"hi","type":"quantitative","axis":null},"color":{"field":"g","type":"nominal","legend":null}}},
{"data":{"name":"brackets"},"transform":[{"filter":"datum.panel==='C3'"}],
 "mark":{"type":"rule","strokeWidth":2,"color":"black"},
 "encoding":{"x":{"datum":"NOR","type":"nominal","axis":null},"x2":{"datum":"POS"},"y":{"field":"top","type":"quantitative","axis":null}}},
{"data":{"name":"brackets"},"transform":[{"filter":"datum.panel==='C3'"}],
 "mark":{"type":"rule","strokeWidth":2,"color":"black"},
 "encoding":{"x":{"datum":"NOR","type":"nominal","axis":null},"y":{"field":"top","type":"quantitative","axis":null},"y2":{"field":"nor"}}},
{"data":{"name":"brackets"},"transform":[{"filter":"datum.panel==='C3'"}],
 "mark":{"type":"rule","strokeWidth":2,"color":"black"},
 "encoding":{"x":{"datum":"POS","type":"nominal","axis":null},"y":{"field":"top","type":"quantitative","axis":null},"y2":{"field":"pos"}}},
{"data":{"name":"brackets"},"transform":[{"filter":"datum.panel==='C3'"}],
 "mark":{"type":"point","filled":true,"size":55,"color":"black","opacity":1},
 "encoding":{"x":{"datum":"POS","type":"nominal","axis":null},"y":{"field":"pos","type":"quantitative","axis":null},"shape":{"field":"dir","type":"nominal","scale":{"domain":["down","up"],"range":["triangle-down","triangle-up"]},"legend":null}}},
{"data":{"name":"brackets"},"transform":[{"filter":"datum.panel==='C3'"}],
 "mark":{"type":"text","text":"*","fontSize":24,"baseline":"middle","dy":7,"color":"black"},
 "encoding":{"x":{"datum":"mid","type":"nominal","axis":null},"y":{"field":"star","type":"quantitative","axis":null}}}
],
"resolve":{"axis":{"x":"independent","y":"independent"}}
}
],
"config": {
"view": {"stroke": "black", "strokeWidth": 2},
"font": "DejaVu Sans",
"axis": {"domain": false, "grid": false, "tickColor": "black", "tickWidth": 1.5, "labelColor": "black", "labelFont": "DejaVu Sans", "labelFontSize": 19, "titleColor": "black", "titleFont": "DejaVu Sans", "titleFontSize": 23, "titleFontWeight": "normal"},
"title": {"font": "DejaVu Sans", "fontSize": 22, "fontWeight": "bold", "color": "black", "subtitleFont": "DejaVu Sans", "subtitleFontSize": 18, "subtitleFontWeight": "bold", "subtitleColor": "black", "anchor": "middle", "frame": "group"}
}
}
